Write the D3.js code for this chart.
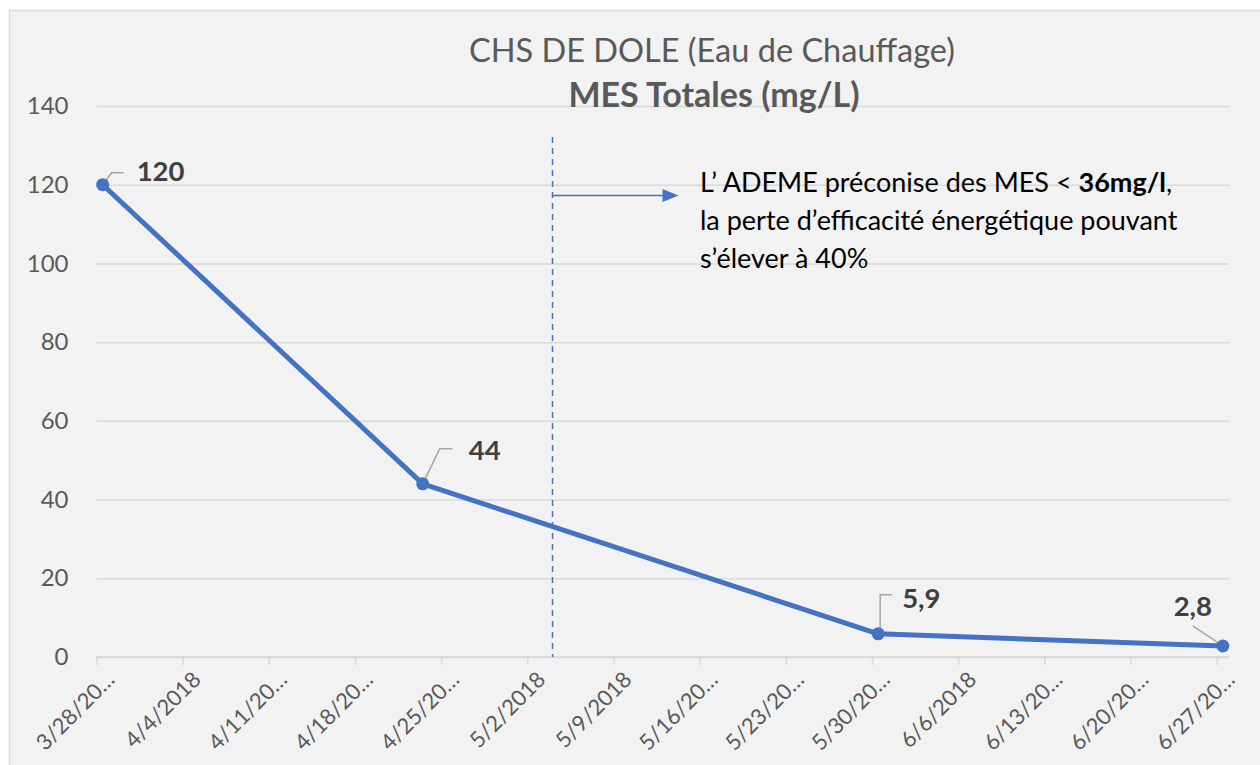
<!DOCTYPE html>
<html lang="fr">
  <head>
    <meta charset="utf-8">
    <title>CHS DE DOLE</title>
    <style>
      body { margin: 0; background: #fff; }
      text { font-family: Lato, "Open Sans", sans-serif; }
    </style>
  </head>
  <body>
  <script src="https://cdn.jsdelivr.net/npm/d3@7"></script>
  <script>
    // data
    var sampleDates = ["2018-03-28", "2018-04-23", "2018-05-30", "2018-06-27"];
    var mesValues = [120, 44, 5.9, 2.8];
    var valueLabels = ["120", "44", "5,9", "2,8"];
    var yTicks = [0, 20, 40, 60, 80, 100, 120, 140];
    var xTickDates = ["2018-03-28", "2018-04-04", "2018-04-11", "2018-04-18", "2018-04-25",
      "2018-05-02", "2018-05-09", "2018-05-16", "2018-05-23", "2018-05-30",
      "2018-06-06", "2018-06-13", "2018-06-20", "2018-06-27"];
    var xTickLabels = ["3/28/20…", "4/4/2018", "4/11/20…", "4/18/20…", "4/25/20…",
      "5/2/2018", "5/9/2018", "5/16/20…", "5/23/20…", "5/30/20…",
      "6/6/2018", "6/13/20…", "6/20/20…", "6/27/20…"];
    var thresholdDate = "2018-05-04";
    var noteLines = [
      [["L\u2019 ADEME préconise des MES < ", false], ["36mg/l", true], [",", false]],
      [["la perte d\u2019efficacité énergétique pouvant", false]],
      [["s\u2019élever à 40%", false]]
    ];

    // label placement (layout only): dx, dy of text, anchor, leader path points
    var labelLayout = [
      { dx: 34, dy: -4, anchor: "start", leader: [[0, 0], [9, -12], [21, -12]] },
      { dx: 46, dy: -24, anchor: "start", leader: [[0, 0], [17, -35], [30, -35]] },
      { dx: 24, dy: -26, anchor: "start", leader: [[2, 0], [2, -39], [14, -39]] },
      { dx: -30, dy: -30, anchor: "middle", leader: [[0, 0], [-30, -20]] }
    ];

    var W = 1260, H = 765;
    var parse = d3.utcParse("%Y-%m-%d");
    var halfDay = 12 * 3600 * 1000;

    var svg = d3.select("body").append("svg")
      .attr("width", W).attr("height", H);

    svg.append("rect")
      .attr("x", 9.5).attr("y", 10.5)
      .attr("width", W).attr("height", H)
      .style("fill", "#f2f2f2").style("stroke", "#d9d9d9").style("stroke-width", 1.5);

    var x = d3.scaleUtc()
      .domain([parse("2018-03-28"), parse("2018-06-28")])
      .range([96.5, 1229]);
    var y = d3.scaleLinear().domain([0, 140]).range([657, 106]);

    // gridlines + y labels
    var yAxis = d3.axisLeft(y).tickValues(yTicks).tickSize(-(1229 - 96.5)).tickPadding(28);
    var gy = svg.append("g").attr("transform", "translate(96.5,0)").call(yAxis);
    gy.select(".domain").remove();
    gy.selectAll("line").style("stroke", "#d9d9d9").style("stroke-width", 1.5);
    gy.selectAll("text").style("font-size", "24px").style("fill", "#595959")
      .style("font-family", "Lato, sans-serif");

    // x axis
    var xAxis = d3.axisBottom(x)
      .tickValues(xTickDates.map(parse))
      .tickSize(8)
      .tickFormat(function(d, i) { return xTickLabels[i]; });
    var gx = svg.append("g").attr("transform", "translate(0,657)").call(xAxis);
    gx.select(".domain").attr("d", "M96.5,0H1229").style("stroke", "#d9d9d9").style("stroke-width", 1.5);
    gx.selectAll("line").style("stroke", "#d9d9d9").style("stroke-width", 1.5);
    gx.selectAll("text")
      .style("font-size", "22px").style("fill", "#595959")
      .style("font-family", "Lato, sans-serif")
      .attr("text-anchor", "end")
      .attr("dy", null)
      .attr("y", 0)
      .attr("transform", "translate(19,24) rotate(-45)");

    // threshold line + arrow
    var tx = Math.round(x(parse(thresholdDate))) + 0.5;
    svg.append("line")
      .attr("x1", tx).attr("x2", tx).attr("y1", 137).attr("y2", 657)
      .style("stroke", "#4472c4").style("stroke-width", 1.5).style("stroke-dasharray", "6,5");
    svg.append("line")
      .attr("x1", tx).attr("x2", tx + 112).attr("y1", 195.5).attr("y2", 195.5)
      .style("stroke", "#4472c4").style("stroke-width", 1.5);
    svg.append("path")
      .attr("d", "M " + (tx + 110) + " 189 L " + (tx + 126) + " 195.5 L " + (tx + 110) + " 202 Z")
      .style("fill", "#4472c4");

    var note = svg.append("text").attr("x", 700).attr("y", 192)
      .style("font-size", "27px").style("fill", "#000");
    noteLines.forEach(function(line, i) {
      line.forEach(function(part, j) {
        var t = note.append("tspan").text(part[0]).style("font-weight", part[1] ? "bold" : "normal");
        if (j === 0) t.attr("x", 700).attr("dy", i === 0 ? 0 : 38);
      });
    });

    // series
    var pts = sampleDates.map(function(d, i) {
      return { x: x(new Date(parse(d).getTime() + halfDay)), y: y(mesValues[i]), label: valueLabels[i], lay: labelLayout[i] };
    });

    svg.append("path")
      .datum(pts)
      .attr("d", d3.line().x(function(d) { return d.x; }).y(function(d) { return d.y; }))
      .style("fill", "none").style("stroke", "#4472c4").style("stroke-width", 5)
      .style("stroke-linejoin", "round");

    svg.selectAll(".leader").data(pts).enter().append("path")
      .attr("class", "leader")
      .attr("d", function(d) {
        return d3.line()(d.lay.leader.map(function(p) { return [d.x + p[0], d.y + p[1]]; }));
      })
      .style("fill", "none").style("stroke", "#a6a6a6").style("stroke-width", 1.5);

    svg.selectAll(".pt").data(pts).enter().append("circle")
      .attr("class", "pt")
      .attr("cx", function(d) { return d.x; }).attr("cy", function(d) { return d.y; })
      .attr("r", 6.5)
      .style("fill", "#4472c4");

    svg.selectAll(".vlabel").data(pts).enter().append("text")
      .attr("class", "vlabel")
      .attr("x", function(d) { return d.x + d.lay.dx; })
      .attr("y", function(d) { return d.y + d.lay.dy; })
      .attr("text-anchor", function(d) { return d.lay.anchor; })
      .style("font-size", "27.5px").style("font-weight", "bold").style("fill", "#404040")
      .text(function(d) { return d.label; });

    // title
    svg.append("text").attr("x", 712).attr("y", 62).attr("text-anchor", "middle")
      .style("font-size", "32.5px").style("fill", "#595959")
      .text("CHS DE DOLE (Eau de Chauffage)");
    svg.append("text").attr("x", 714).attr("y", 107).attr("text-anchor", "middle")
      .style("font-size", "34px").style("font-weight", "bold").style("fill", "#595959")
      .text("MES Totales (mg/L)");
  </script>
  </body>
</html>
